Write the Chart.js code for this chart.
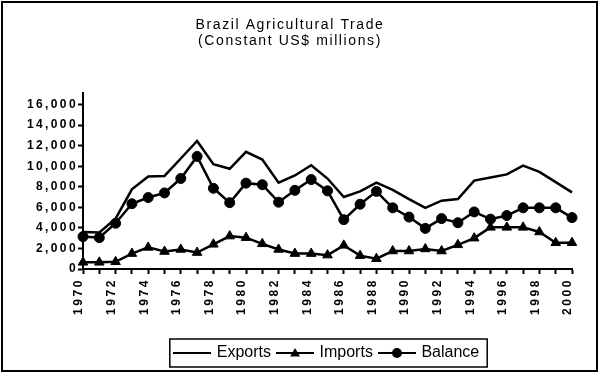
<!DOCTYPE html>
<html>
<head>
<meta charset="utf-8">
<script src="https://cdn.jsdelivr.net/npm/chart.js@4/dist/chart.umd.min.js"></script>
<style>
  html, body { margin: 0; padding: 0; background: #fff; }
  #wrap { width: 600px; height: 373px; }
</style>
</head>
<body>
<div id="wrap"><canvas id="tradeChart" width="600" height="373"></canvas></div>
<script>
document.addEventListener("DOMContentLoaded", function(){

// data
const years = [1970, 1971, 1972, 1973, 1974, 1975, 1976, 1977, 1978, 1979,
               1980, 1981, 1982, 1983, 1984, 1985, 1986, 1987, 1988, 1989,
               1990, 1991, 1992, 1993, 1994, 1995, 1996, 1997, 1998, 1999, 2000]
const exportsData = [3600, 3550, 4900, 7750, 9000, 9050, 10750, 12450, 10200, 9750,
                     11400, 10650, 8400, 9100, 10100, 8800, 7000, 7550, 8400, 7700,
                     6800, 5950, 6650, 6800, 8600, 8900, 9200, 10050, 9450, 8450, 7450]
const importsData = [650, 650, 700, 1500, 2100, 1700, 1900, 1600, 2400, 3200,
                     3050, 2450, 1900, 1500, 1500, 1350, 2300, 1300, 1000, 1750,
                     1750, 1950, 1750, 2350, 3000, 4050, 4050, 4050, 3600, 2550, 2550]
const balanceData = [3150, 3050, 4450, 6350, 6950, 7400, 8800, 10950, 7850, 6450,
                     8350, 8200, 6500, 7650, 8700, 7600, 4800, 6300, 7550, 5950,
                     5050, 3950, 4900, 4500, 5550, 4850, 5200, 5950, 5950, 5950, 5000]
const yTicks = [0, 2000, 4000, 6000, 8000, 10000, 12000, 14000, 16000]
const seriesNames = ["Exports", "Imports", "Balance"]
const titleLines = ["Brazil Agricultural Trade", "(Constant US$ millions)"]

const fontFamily = "'Liberation Sans', Arial, sans-serif"

// little legend samples: line with the marker in the middle
makeSample = (marker) => {
    const c = document.createElement("canvas")
    c.width = 38; c.height = 14
    const g = c.getContext("2d")
    g.strokeStyle = "#000"; g.fillStyle = "#000"; g.lineWidth = 2
    g.beginPath(); g.moveTo(0, 7); g.lineTo(38, 7); g.stroke()
    if (marker === "triangle") {
        g.beginPath(); g.moveTo(19, 2); g.lineTo(24, 10.5); g.lineTo(14, 10.5); g.closePath(); g.fill()
    } else if (marker === "circle") {
        g.beginPath(); g.arc(19, 7, 5, 0, Math.PI * 2); g.fill()
    }
    return c
}
const samples = [makeSample(null), makeSample("triangle"), makeSample("circle")]

// wrap a draw method so its text gets some letter spacing
patchSpacing = (obj, name, sp) => {
    if (!obj || obj["_sp_" + name]) return
    const orig = obj[name].bind(obj)
    obj[name] = function(){
        const ctx = this.ctx
        ctx.save()
        ctx.letterSpacing = sp
        orig(...arguments)
        ctx.letterSpacing = "0px"
        ctx.restore()
    }
    obj["_sp_" + name] = true
}

const spacingPlugin = {
    id: "spacing",
    afterLayout(chart){
        patchSpacing(chart.scales.x, "drawLabels", "2.6px")
        patchSpacing(chart.scales.y, "drawLabels", "2.4px")
        patchSpacing(chart.titleBlock, "draw", "1.6px")
    }
}

// outer frame and the legend box
const framePlugin = {
    id: "frame",
    afterDraw(chart){
        const ctx = chart.ctx
        ctx.save()
        ctx.strokeStyle = "#000"
        ctx.lineWidth = 2
        ctx.strokeRect(2, 2, 595, 369)
        const hb = chart.legend.legendHitBoxes
        if (hb && hb.length) {
            const first = hb[0], last = hb[hb.length - 1]
            const cy = first.top + first.height / 2
            const left = first.left - 6
            const right = last.left + last.width + 8
            ctx.lineWidth = 1.5
            ctx.strokeRect(left, cy - 14, right - left, 28)
        }
        ctx.restore()
    }
}

const ctx = document.getElementById("tradeChart").getContext("2d")

new Chart(ctx, {
    type: "line",
    data: {
        labels: years,
        datasets: [
            {
                label: seriesNames[0],
                data: exportsData,
                borderColor: "#000",
                borderWidth: 2.5,
                pointRadius: 0,
                tension: 0,
                clip: false
            },
            {
                label: seriesNames[1],
                data: importsData,
                borderColor: "#000",
                borderWidth: 2.5,
                pointStyle: "triangle",
                pointRadius: 5.5,
                pointBackgroundColor: "#000",
                pointBorderColor: "#000",
                pointBorderWidth: 1,
                tension: 0,
                clip: false
            },
            {
                label: seriesNames[2],
                data: balanceData,
                borderColor: "#000",
                borderWidth: 2.5,
                pointStyle: "circle",
                pointRadius: 5,
                pointBackgroundColor: "#000",
                pointBorderColor: "#000",
                pointBorderWidth: 1,
                tension: 0,
                clip: false
            }
        ]
    },
    options: {
        responsive: false,
        animation: false,
        events: [],
        layout: { padding: { left: 8, right: 28, top: 0, bottom: 2 } },
        scales: {
            x: {
                type: "category",
                offset: false,
                grid: { display: true, drawOnChartArea: false, tickLength: 5, tickColor: "#000", tickWidth: 2 },
                border: { display: true, color: "#000", width: 2 },
                ticks: {
                    autoSkip: false,
                    minRotation: 90,
                    maxRotation: 90,
                    padding: 4,
                    labelOffset: -4,
                    color: "#000",
                    font: { family: fontFamily, size: 12, weight: "bold" },
                    callback: (v, i) => (years[i] % 2 === 0 ? String(years[i]) : "")
                },
                afterFit: (scale) => { scale.height = 68.5 }
            },
            y: {
                min: 0,
                max: 17100,
                grid: { display: true, drawOnChartArea: false, tickLength: 5, tickColor: "#000", tickWidth: 2 },
                border: { display: true, color: "#000", width: 2 },
                afterBuildTicks: (scale) => { scale.ticks = yTicks.map(v => ({ value: v })) },
                ticks: {
                    padding: 0,
                    color: "#000",
                    font: { family: fontFamily, size: 12, weight: "bold" },
                    callback: (v) => v.toLocaleString("en-US")
                },
                afterFit: (scale) => { scale.width = 75 }
            }
        },
        plugins: {
            title: {
                display: true,
                text: titleLines,
                color: "#000",
                font: { family: fontFamily, size: 14, weight: "normal", lineHeight: 1.15 },
                padding: { top: 17, bottom: 44 }
            },
            legend: {
                display: true,
                position: "bottom",
                fullSize: false,
                labels: {
                    usePointStyle: true,
                    pointStyleWidth: 33,
                    padding: 7.5,
                    color: "#000",
                    font: { family: fontFamily, size: 16 },
                    generateLabels: (chart) => Chart.defaults.plugins.legend.labels.generateLabels(chart)
                        .map((l, i) => Object.assign(l, { pointStyle: samples[i] }))
                }
            },
            tooltip: { enabled: false }
        }
    },
    plugins: [spacingPlugin, framePlugin]
})

});
</script>
</body>
</html>
